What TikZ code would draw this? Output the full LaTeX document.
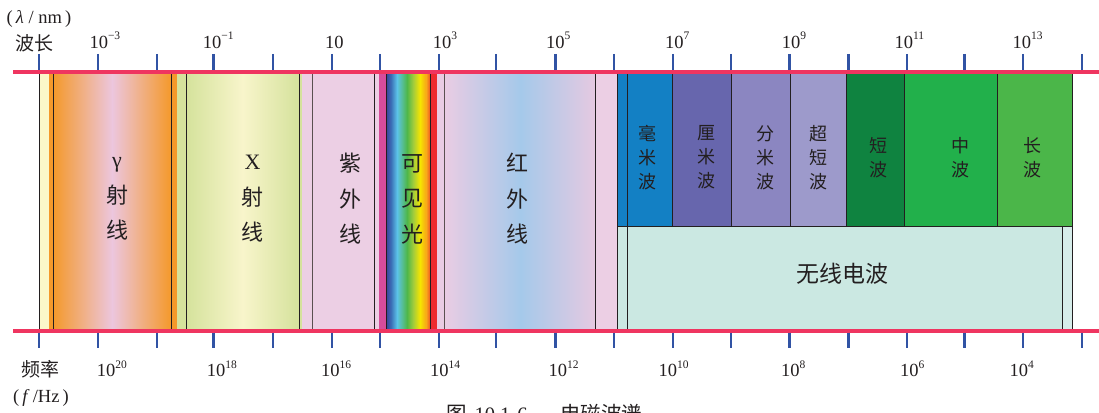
\documentclass[tikz,border=0pt]{standalone}
\usepackage{fontspec}
\setmainfont{Liberation Serif}
\newfontfamily\cjk{Noto Sans CJK SC}
\definecolor{txt}{HTML}{231F20}
\definecolor{lineblack}{HTML}{231F20}
\definecolor{linegray}{HTML}{5A5050}
\definecolor{axisred}{HTML}{EF3560}
\definecolor{tickblue}{HTML}{3153A4}
\definecolor{paleyel}{HTML}{FBF7C9}
\definecolor{gorange}{HTML}{F4992B}
\definecolor{gpink}{HTML}{ECC6DE}
\definecolor{lgreen}{HTML}{D5E29C}
\definecolor{xpale}{HTML}{F8F5CB}
\definecolor{uvpink}{HTML}{ECCFE4}
\definecolor{magstripe}{HTML}{D64C9B}
\definecolor{redstripe}{HTML}{EE2B2F}
\definecolor{irpink}{HTML}{E9CCE3}
\definecolor{irblue}{HTML}{A5C9EA}
\definecolor{irpinkr}{HTML}{E6C9E1}
\definecolor{mmblue}{HTML}{1380C4}
\definecolor{cmviolet}{HTML}{6766AD}
\definecolor{dmviolet}{HTML}{8B86C1}
\definecolor{uswviolet}{HTML}{9D9ACB}
\definecolor{swgreen}{HTML}{0F8340}
\definecolor{mwgreen}{HTML}{22B04B}
\definecolor{lwgreen}{HTML}{4BB649}
\definecolor{radioteal}{HTML}{CBE8E2}
\definecolor{radiotealb}{HTML}{D6EDEA}
\definecolor{rb1}{HTML}{3A3F98}
\definecolor{rb2}{HTML}{3B6FB6}
\definecolor{rb3}{HTML}{5CC3E8}
\definecolor{rb4}{HTML}{56BE9A}
\definecolor{rb5}{HTML}{4FB74A}
\definecolor{rb6}{HTML}{A5CD39}
\definecolor{rb7}{HTML}{F6E500}
\definecolor{rb8}{HTML}{F7A11A}
\definecolor{rb9}{HTML}{EF4A23}
\newcommand\myexp[1]{\raisebox{0.45em}{\fontsize{11.5}{12}\selectfont #1}}
\begin{document}
\begin{tikzpicture}[x=1pt,y=-1pt,
  bandline/.style={line width=0.9pt, draw=lineblack},
  grayline/.style={line width=0.9pt, draw=linegray},
  redline/.style={line width=4pt, draw=axisred},
  tickmark/.style={line width=2.4pt, draw=tickblue},
  bigtext/.style={font=\cjk\fontsize{22}{35.5}\selectfont, align=center, inner sep=0pt, text=txt},
  smalltext/.style={font=\cjk\fontsize{18}{24}\selectfont, align=center, inner sep=0pt, text=txt},
  numtext/.style={font=\fontsize{18.5}{20}\selectfont, inner sep=0pt, anchor=base west, text=txt},
  sidetext/.style={font=\fontsize{18.5}{20}\selectfont, inner sep=0pt, text=txt},
  sidecjk/.style={font=\cjk\fontsize{19}{20}\selectfont, inner sep=0pt, text=txt},
]
\useasboundingbox (0,0) rectangle (1099,412);

% ---------- band fills ----------
\fill[paleyel] (39,72) rectangle (49.3,330);
\fill[gorange] (49.3,72) rectangle (53.3,330);
\shade[left color=gorange, right color=gorange, middle color=gpink] (53.3,72) rectangle (171,330);
\fill[gorange] (171,72) rectangle (176.7,330);
\fill[lgreen] (176.7,72) rectangle (186.5,330);
\shade[left color=lgreen, right color=lgreen, middle color=xpale] (186.5,72) rectangle (299,330);
\fill[lgreen] (299,72) rectangle (301.7,330);
\fill[uvpink] (301.7,72) rectangle (379,330);
\fill[magstripe] (379,72) rectangle (386,330);
% visible rainbow
\shade[left color=rb1, right color=rb2] (386,72) rectangle (391,330);
\shade[left color=rb2, right color=rb3] (391,72) rectangle (397,330);
\shade[left color=rb3, right color=rb4] (397,72) rectangle (402,330);
\shade[left color=rb4, right color=rb5] (402,72) rectangle (407,330);
\shade[left color=rb5, right color=rb6] (407,72) rectangle (413.5,330);
\shade[left color=rb6, right color=rb7] (413.5,72) rectangle (420,330);
\shade[left color=rb7, right color=rb8] (420,72) rectangle (426.5,330);
\shade[left color=rb8, right color=rb9] (426.5,72) rectangle (430.7,330);
\fill[redstripe] (430.7,72) rectangle (437.3,330);
\fill[irpink] (437.3,72) rectangle (445,330);
\shade[left color=irpink, right color=irpinkr, middle color=irblue] (445,72) rectangle (596,330);
\fill[uvpink] (596,72) rectangle (617,330);
% radio
\fill[mmblue] (617,72) rectangle (672.7,226);
\fill[cmviolet] (672.7,72) rectangle (731.7,226);
\fill[dmviolet] (731.7,72) rectangle (790,226);
\fill[uswviolet] (790,72) rectangle (846.7,226);
\fill[swgreen] (846.7,72) rectangle (904,226);
\fill[mwgreen] (904,72) rectangle (997.3,226);
\fill[lwgreen] (997.3,72) rectangle (1072.3,226);
\fill[radioteal] (617,226) rectangle (1062.3,330);
\fill[radiotealb] (1062.3,226) rectangle (1072.3,330);

% ---------- band boundary lines ----------
\foreach \x in {39,53.3,171,186.5,299,374.3,386,430.7,595.7,617,627.7,1072.3}
  \draw[bandline] (\x,72) -- (\x,330);
\foreach \x in {312,444.5}
  \draw[grayline] (\x,72) -- (\x,330);
\foreach \x in {672.7,731.7,790,846.7,904,997.3}
  \draw[bandline] (\x,72) -- (\x,226);
\draw[bandline] (1062.3,226) -- (1062.3,330);
\draw[bandline] (617,226) -- (1072.3,226);

% ---------- axes ----------
\draw[redline] (13,72) -- (1099,72);
\draw[redline] (13,330.5) -- (1099,330.5);
\foreach \x in {39,97.7,156.7,213.3,272.7,331.7,380,438.7,496,555.3,614,672.7,730.7,789.3,848.3,907,964.3,1023,1082}{
  \draw[tickmark] (\x,54) -- (\x,70);
  \draw[tickmark] (\x,332.5) -- (\x,348.3);
}

% ---------- wavelength labels ----------
\node[sidetext] (lamunit) at (39,19) {(\,\textit{λ} / nm\,)};
\node[sidecjk] (wl) at (35,43) {波长};
\node[numtext] (w1) at (89.3,48.3) {10\myexp{−3}};
\node[numtext] (w2) at (202.7,48.3) {10\myexp{−1}};
\node[numtext] (w3) at (325,48.3) {10};
\node[numtext] (w4) at (432.7,48.3) {10\myexp{3}};
\node[numtext] (w5) at (546,48.3) {10\myexp{5}};
\node[numtext] (w6) at (665,48.3) {10\myexp{7}};
\node[numtext] (w7) at (781.7,48.3) {10\myexp{9}};
\node[numtext] (w8) at (894.3,48.3) {10\myexp{11}};
\node[numtext] (w9) at (1012.3,48.3) {10\myexp{13}};

% ---------- frequency labels ----------
\node[sidecjk] (fr) at (40,369) {频率};
\node[sidetext] (frunit) at (41,398) {(\,\textit{f}\,/Hz\,)};
\node[numtext] (f1) at (96.7,376.5) {10\myexp{20}};
\node[numtext] (f2) at (206.7,376.5) {10\myexp{18}};
\node[numtext] (f3) at (321,376.5) {10\myexp{16}};
\node[numtext] (f4) at (430,376.5) {10\myexp{14}};
\node[numtext] (f5) at (548.3,376.5) {10\myexp{12}};
\node[numtext] (f6) at (658.3,376.5) {10\myexp{10}};
\node[numtext] (f7) at (781,376.5) {10\myexp{8}};
\node[numtext] (f8) at (900,376.5) {10\myexp{6}};
\node[numtext] (f9) at (1009.3,376.5) {10\myexp{4}};

% ---------- band names ----------
\node[bigtext] (gam) at (117,199) {{\rmfamily γ}\\射\\线};
\node[bigtext] (xray) at (252.5,199) {{\rmfamily X}\\射\\线};
\node[bigtext] (uv) at (350,199) {紫\\外\\线};
\node[bigtext] (vis) at (412.5,199) {可\\见\\光};
\node[bigtext] (ir) at (517.5,199) {红\\外\\线};
\node[smalltext] (mm) at (647.5,157.5) {毫\\米\\波};
\node[smalltext] (cm) at (706,157.5) {厘\\米\\波};
\node[smalltext] (dm) at (765,157.5) {分\\米\\波};
\node[smalltext] (usw) at (818.5,157.5) {超\\短\\波};
\node[smalltext] (sw) at (878.5,158) {短\\波};
\node[smalltext] (mw) at (960,158) {中\\波};
\node[smalltext] (lw) at (1032,158) {长\\波};
\node[font=\cjk\fontsize{23}{25}\selectfont, inner sep=0pt, text=txt] (radio) at (842.5,274) {无线电波};

% ---------- caption (cut off by the page edge, as in the reference) ----------
\node[font=\fontsize{20.5}{22}\selectfont, anchor=north west, inner sep=0pt, text=txt] (cap) at (446.7,404.5) {{\cjk 图}\hspace{0.35em}10.1-6\hspace{1.6em}{\cjk 电磁波谱}};
\end{tikzpicture}
\end{document}
